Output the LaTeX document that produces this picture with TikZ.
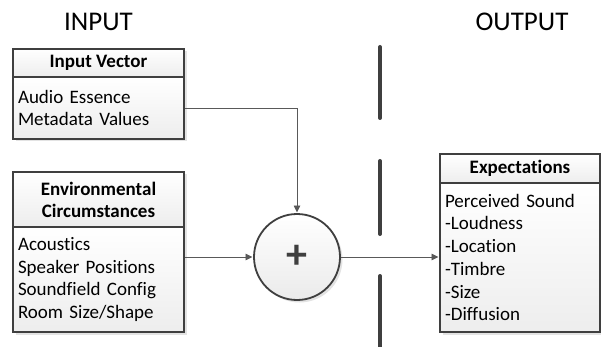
\documentclass[tikz,border=0pt]{standalone}
\usepackage{fontspec}
\setmainfont[Ligatures=NoCommon]{Carlito}
\usetikzlibrary{arrows.meta,shadows}
\definecolor{edge}{HTML}{3F3F3F}
\definecolor{wire}{HTML}{595959}
\begin{document}
\begin{tikzpicture}[x=1pt,y=-1pt,
  boxpart/.style={draw=edge, line width=1.8pt, rectangle, inner sep=0pt,
    top color=white, bottom color=black!7,
    drop shadow={opacity=0.22, shadow xshift=2.5pt, shadow yshift=-2.5pt}},
  head/.style={boxpart, font=\fontsize{19}{22}\selectfont\bfseries, align=center},
  body/.style={boxpart, font=\fontsize{19}{22.7}\selectfont, align=left, inner xsep=5pt},
  title/.style={font=\fontsize{27}{30}\selectfont, inner sep=0pt},
  conn/.style={draw=wire, line width=0.9pt, -{Triangle[length=7pt,width=6.5pt]}, shorten >=0.6pt},
  bar/.style={draw=edge, line width=4pt, line cap=round}]
\useasboundingbox (0,0) rectangle (601,347);

% titles
\node[title] (tin) at (98.5,22) {INPUT};
\node[title] (tout) at (522,22) {OUTPUT};

% Input Vector
\node[head, minimum width=171pt, minimum height=28pt] (ivh) at (98.5,63) {Input Vector};
\node[body, minimum width=171pt, text width=161pt, minimum height=62pt] (iv) at (98.5,108)
  {Audio Essence\\Metadata Values};

% Environmental Circumstances
\node[head, minimum width=171pt, minimum height=55pt] (envh) at (98.5,199.5) {Environmental\\Circumstances};
\node[body, minimum width=171pt, text width=161pt, minimum height=105pt] (env) at (98.5,279.5)
  {Acoustics\\Speaker Positions\\Soundfield Config\\Room Size/Shape};

% Expectations
\node[head, minimum width=160pt, minimum height=29pt] (exph) at (520,168.5) {Expectations};
\node[body, minimum width=160pt, text width=150pt, minimum height=149pt] (exp) at (520,257.5)
  {Perceived Sound\\-Loudness\\-Location\\-Timbre\\-Size\\-Diffusion};

% summing node
\node[circle, draw=edge, line width=1.8pt, minimum size=86pt, inner sep=0pt,
  top color=white, bottom color=black!8,
  drop shadow={opacity=0.22, shadow xshift=2.5pt, shadow yshift=-2.5pt},
  font=\fontsize{42}{42}\selectfont\bfseries, text=edge] (plus) at (297,257) {+};

% connectors
\draw[conn] (iv.east) -| (plus.north);
\draw[conn] (env.east |- plus.west) -- (plus.west);
\draw[conn] (plus.east) -- (exp.west |- plus.east);

% divider bars
\draw[bar] (380,47) -- (380,118);
\draw[bar] (380,161) -- (380,234);
\draw[bar] (380,276) -- (380,352);
\end{tikzpicture}
\end{document}
